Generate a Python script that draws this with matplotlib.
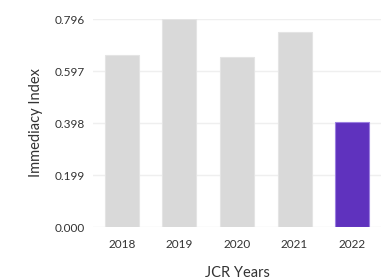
import matplotlib
matplotlib.use("Agg")
import matplotlib.pyplot as plt

years = ["2018", "2019", "2020", "2021", "2022"]
values = [0.658, 0.796, 0.652, 0.747, 0.400]
yticks = [0.000, 0.199, 0.398, 0.597, 0.796]
colors = ["#d9d9d9", "#d9d9d9", "#d9d9d9", "#d9d9d9", "#5f32be"]
edges = ["#e4e4e4", "#e4e4e4", "#e4e4e4", "#e4e4e4", "#9b7fe0"]

plt.rcParams["font.family"] = ["Lato", "DejaVu Sans"]

fig = plt.figure(figsize=(3.88, 2.80), dpi=100)
ax = fig.add_axes([93 / 388, 1 - 227 / 280, 288 / 388, 208 / 280])

ax.bar(years, values, width=0.59, color=colors, edgecolor=edges, linewidth=0.8, zorder=2)

ax.set_ylim(0, 0.796)
ax.set_xlim(-0.5, 4.5)
ax.set_yticks(yticks)
ax.set_yticklabels([f"{t:.3f}" for t in yticks])
ax.grid(axis="y", color="#efefef", linewidth=1, zorder=0)
for s in ax.spines.values():
    s.set_visible(False)
ax.tick_params(length=0, labelsize=8.5, colors="#333333", pad=6)
ax.tick_params(axis="x", pad=9)
ax.set_ylabel("Immediacy Index", fontsize=10.5, color="#333333", labelpad=8)
ax.set_xlabel("JCR Years", fontsize=10.5, color="#333333", labelpad=11)

fig.savefig("out.png", dpi=100)
